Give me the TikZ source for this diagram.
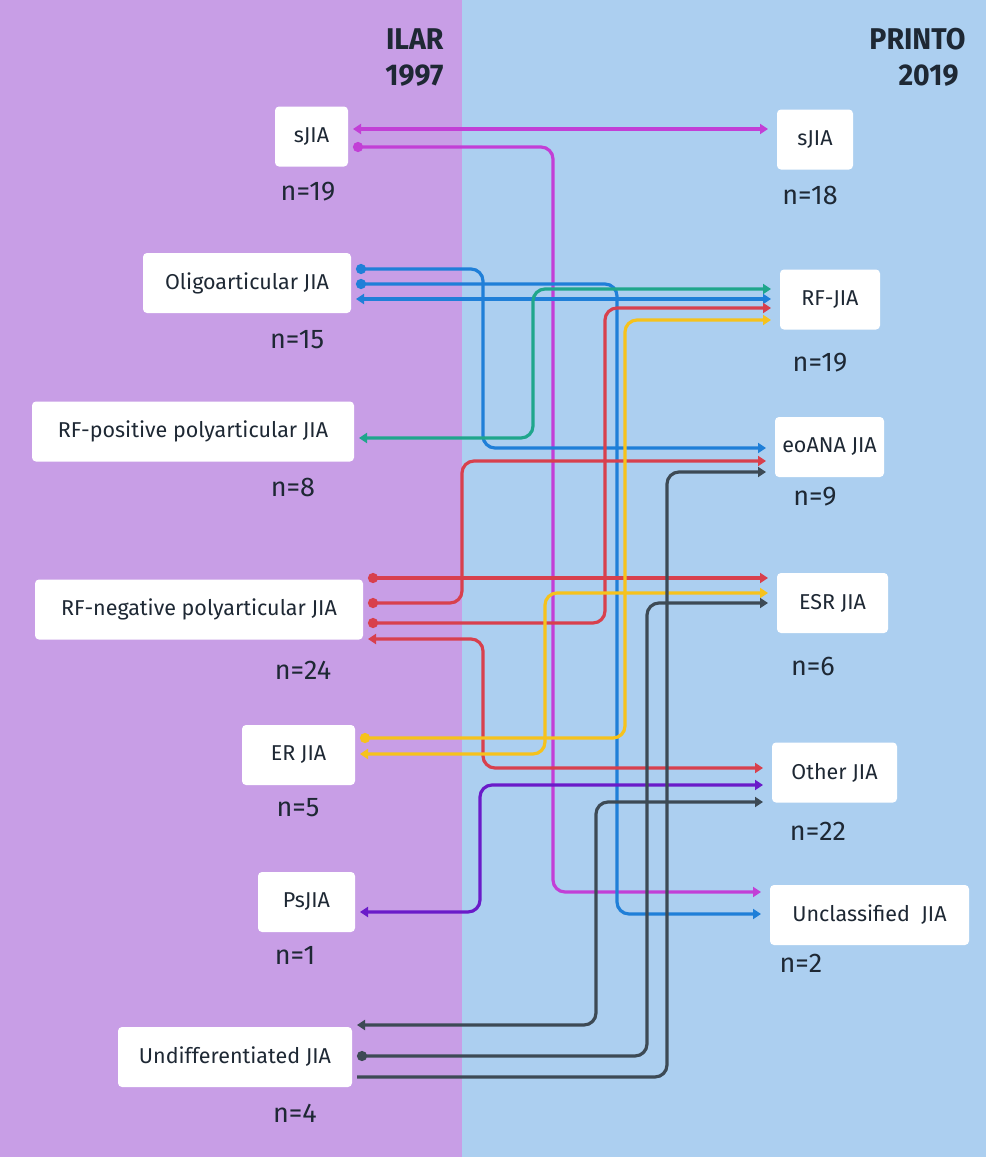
\documentclass[tikz,border=0pt]{standalone}
\usepackage{fontspec}
\setmainfont{Fira Sans}
\usepackage{tikz}
\usetikzlibrary{arrows.meta}
\definecolor{ilarbg}{RGB}{200,158,230}
\definecolor{printobg}{RGB}{172,207,240}
\definecolor{ink}{RGB}{30,40,52}
\definecolor{mag}{RGB}{194,63,214}
\definecolor{blu}{RGB}{31,127,216}
\definecolor{grn}{RGB}{31,166,140}
\definecolor{rd}{RGB}{216,64,77}
\definecolor{ylw}{RGB}{246,194,28}
\definecolor{vio}{RGB}{106,27,201}
\definecolor{slate}{RGB}{61,74,85}
\tikzset{
  box/.style={fill=white,rounded corners=4pt,inner sep=0pt,minimum height=60pt,text=ink,font=\fontsize{21.5}{24}\selectfont},
  lbox/.style={box,outer xsep=5pt},
  rbox/.style={box,outer xsep=9pt},
  cnt/.style={text=ink,font=\fontsize{27}{30}\selectfont},
  head/.style={anchor=east,text=ink,font=\fontsize{30}{33}\selectfont\bfseries},
  link/.style={line width=3.2pt,rounded corners=12pt},
  twoway/.style={link,{Triangle[length=8pt,width=10pt]}-{Triangle[length=8pt,width=10pt]}},
  oneway/.style={link,{Circle[length=10pt]}-{Triangle[length=8pt,width=10pt]}},
  bareway/.style={link,-{Triangle[length=8pt,width=10pt]}},
}
\begin{document}
\begin{tikzpicture}[x=1pt,y=-1pt]
   \useasboundingbox (0,0) rectangle (986,1157);
   \fill[ilarbg] (0,0) rectangle (462,1157);
   \fill[printobg] (462,0) rectangle (986,1157);

   \draw (447,39) node[head] (ilar) {\scalebox{0.95}[1]{ILAR}};
   \draw (447,76) node[head] (y1997) {\scalebox{0.95}[1]{1997}};
   \draw (969,39) node[head] (printo) {\scalebox{0.95}[1]{PRINTO}};
   \draw (962,76) node[head] (y2019) {\scalebox{0.95}[1]{2019}};

   \draw (311.5,136.5) node[lbox,minimum width=73pt] (lsjia) {sJIA};
   \draw (247,283) node[lbox,minimum width=208pt] (oligo) {Oligoarticular JIA};
   \draw (193,431.5) node[lbox,minimum width=322pt] (rfpos) {RF-positive polyarticular JIA};
   \draw (199,609.5) node[lbox,minimum width=328pt] (rfneg) {RF-negative polyarticular JIA};
   \draw (298.5,755) node[lbox,minimum width=113pt] (erjia) {ER JIA};
   \draw (306.5,902) node[lbox,minimum width=97pt] (psjia) {PsJIA};
   \draw (235,1057) node[lbox,minimum width=234pt] (undiff) {Undifferentiated JIA};

   \draw (815,139.5) node[rbox,minimum width=76pt] (rsjia) {sJIA};
   \draw (830,299.5) node[rbox,minimum width=100pt] (rfjia) {RF-JIA};
   \draw (829.5,447) node[rbox,minimum width=109pt] (eoana) {eoANA JIA};
   \draw (832.5,603) node[rbox,minimum width=111pt] (esr) {ESR JIA};
   \draw (834.5,772.5) node[rbox,minimum width=125pt] (other) {Other JIA};
   \draw (869.5,915) node[rbox,minimum width=199pt] (uncl) {Unclassified~ JIA};

   \draw (308,192) node[cnt] (nlsjia) {n=19};
   \draw (297,340) node[cnt] (noligo) {n=15};
   \draw (293,487) node[cnt] (nrfpos) {n=8};
   \draw (303,670) node[cnt] (nrfneg) {n=24};
   \draw (298,808) node[cnt] (nerjia) {n=5};
   \draw (295,955) node[cnt] (npsjia) {n=1};
   \draw (295,1113) node[cnt] (nundiff) {n=4};
   \draw (810,195) node[cnt] (nrsjia) {n=18};
   \draw (820,363) node[cnt] (nrfjia) {n=19};
   \draw (815,497) node[cnt] (neoana) {n=9};
   \draw (813,666) node[cnt] (nesr) {n=6};
   \draw (818,831) node[cnt] (nother) {n=22};
   \draw (801,963) node[cnt] (nuncl) {n=2};

   \draw[mag,twoway] (lsjia.east |- 0,129) -- (rsjia.west |- 0,129);
   \draw[mag,oneway] (lsjia.east |- 0,147) -| (553,892) -- (uncl.west |- 0,892);
   \draw[blu,oneway] (oligo.east |- 0,269) -| (483,448) -- (eoana.west |- 0,448);
   \draw[blu,oneway] (oligo.east |- 0,284) -| (617,914) -- (uncl.west |- 0,914);
   \draw[blu,twoway] (oligo.east |- 0,299) -- (rfjia.west |- 0,299);
   \draw[grn,twoway] (rfpos.east |- 0,438) -| (533,289) -- (rfjia.west |- 0,289);
   \draw[rd,oneway] (rfneg.east |- 0,578) -- (esr.west |- 0,578);
   \draw[rd,oneway] (rfneg.east |- 0,603) -| (462,461) -- (eoana.west |- 0,461);
   \draw[rd,oneway] (rfneg.east |- 0,623) -| (605,308) -- (rfjia.west |- 0,308);
   \draw[rd,twoway] (rfneg.east |- 0,639) -| (483,768) -- (other.west |- 0,768);
   \draw[ylw,oneway] (erjia.east |- 0,738) -| (625,320) -- (rfjia.west |- 0,320);
   \draw[ylw,twoway] (erjia.east |- 0,754) -| (545,593) -- (esr.west |- 0,593);
   \draw[vio,twoway] (psjia.east |- 0,912) -| (480,785) -- (other.west |- 0,785);
   \draw[slate,twoway] (undiff.east |- 0,1025) -| (596,802) -- (other.west |- 0,802);
   \draw[slate,oneway] (undiff.east |- 0,1056) -| (647,603) -- (esr.west |- 0,603);
   \draw[slate,bareway] (undiff.east |- 0,1077) -| (667,472) -- (eoana.west |- 0,472);

\end{tikzpicture}
\end{document}
